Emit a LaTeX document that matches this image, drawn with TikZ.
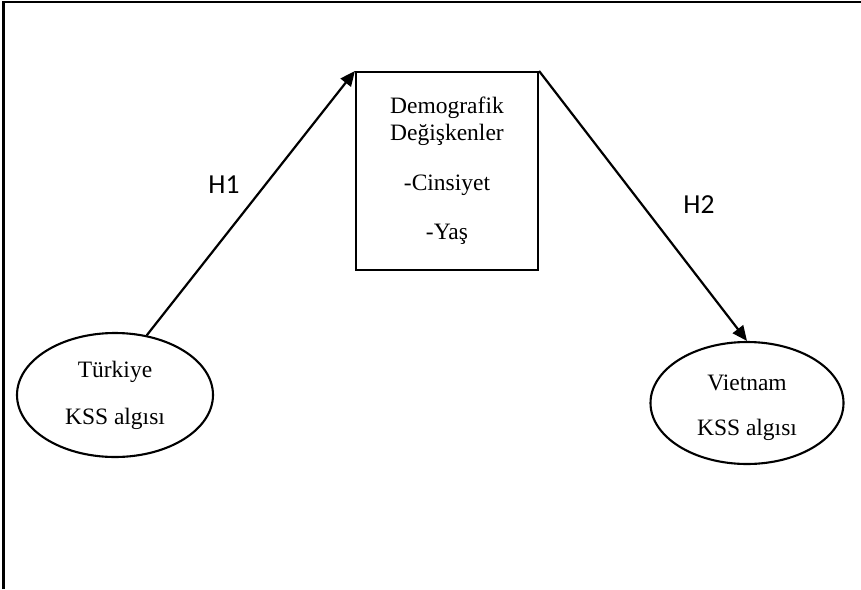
\documentclass[tikz,border=0pt]{standalone}
\usepackage{fontspec}
\setmainfont{Liberation Serif}
\newfontfamily\hfont{Carlito}
\usetikzlibrary{positioning, arrows.meta, shapes.geometric}

\begin{document}
\begin{tikzpicture}
    [
        x=1pt, y=-1pt,
        box_node/.style={rectangle, draw=black, line width=2.1pt, minimum width=182pt, minimum height=198pt, align=center, inner sep=0pt, font=\fontsize{23.5}{27}\selectfont},
        ellipse_node/.style={ellipse, draw=black, line width=2.1pt, minimum width=196pt, minimum height=124pt, align=center, inner sep=0pt, font=\fontsize{23.5}{27}\selectfont},
        h_label/.style={anchor=base, inner sep=0pt, font=\hfont\fontsize{27.5}{30}\selectfont},
        link/.style={-{Triangle[length=15pt, width=13pt]}, line width=2.2pt, color=black},
    ]
        \useasboundingbox (0,0) rectangle (861,589);
        % page frame, only top and left edges visible
        \draw[line width=2.2pt] (3.5,589) -- (3.5,1.6) -- (861,1.6);
        \node[box_node] (demo) at (447,171) {Demografik\\Değişkenler\\[23pt]-Cinsiyet\\[22pt]-Yaş};
        \node[ellipse_node] (tur) at (115,395) {Türkiye\\[20pt]KSS algısı};
        \node[ellipse_node, minimum width=193pt, minimum height=122pt] (viet) at (747,403) {\rule{0pt}{25pt}Vietnam\\[18pt]KSS algısı};
        \draw[link] (tur.62) -- (demo.north west) ;
        \draw[link] (demo.north east) -- (viet.north) ;
        \node[h_label] (h1) at (224,193) {H1};
        \node[h_label] (h2) at (699,213) {H2};
    \end{tikzpicture}
\end{document}
